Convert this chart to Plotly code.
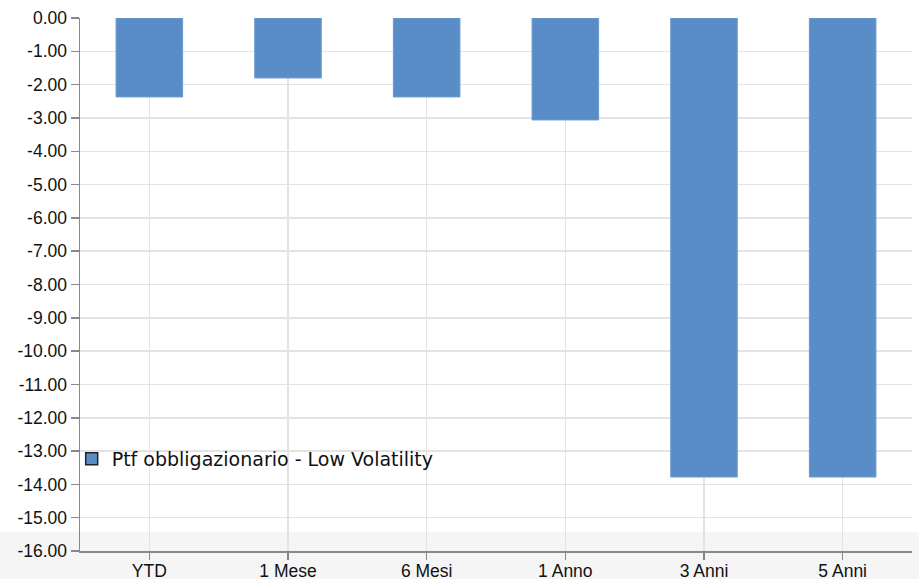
import plotly.graph_objects as go

categories = ["YTD", "1 Mese", "6 Mesi", "1 Anno", "3 Anni", "5 Anni"]
values = [-2.37, -1.80, -2.37, -3.06, -13.78, -13.78]
series_name = "Ptf obbligazionario - Low Volatility"
y_ticks = [0, -1, -2, -3, -4, -5, -6, -7, -8, -9, -10, -11, -12, -13, -14, -15, -16]

BAR = "#588dc8"
fig = go.Figure()
fig.add_trace(go.Bar(
    x=categories, y=values, name=series_name,
    marker=dict(color=BAR, line=dict(color="#6d9bd0", width=1)),
    width=0.48, showlegend=False,
))
# legend entry (dark-outlined swatch)
fig.add_trace(go.Bar(
    x=[categories[0]], y=[None], name=series_name,
    marker=dict(color=BAR, line=dict(color="#222", width=1.5)),
    showlegend=True, hoverinfo="skip",
))

fig.add_shape(type="rect", xref="paper", yref="paper", x0=-0.5, x1=1.5, y0=-0.5, y1=0.035,
              fillcolor="#f5f5f5", line=dict(width=0), layer="below")

tickfont = dict(size=17.5, family="Liberation Sans, Arial", color="#111")
fig.update_layout(
    width=919, height=579,
    margin=dict(l=80, r=7, t=18, b=28),
    paper_bgcolor="white", plot_bgcolor="rgba(0,0,0,0)",
    font=dict(family="Liberation Sans, Arial", size=17, color="#111"),
    showlegend=True, barmode="overlay", hovermode=False,
    legend=dict(x=-0.01, y=0.173, xanchor="left", yanchor="middle",
                font=dict(family="DejaVu Sans", size=19, color="#111"),
                bgcolor="rgba(0,0,0,0)"),
)
fig.update_xaxes(
    type="category", showgrid=True, gridcolor="#e3e3e3", gridwidth=1.5,
    showline=True, linecolor="#888", linewidth=1.5, automargin=False,
    ticks="outside", ticklen=7, tickcolor="#888", tickwidth=1.5,
    ticklabelstandoff=-4,
    tickfont=tickfont,
)
fig.update_yaxes(
    range=[-16, 0], tickvals=y_ticks, ticktext=[f"{v:.2f}" for v in y_ticks],
    showgrid=True, gridcolor="#e3e3e3", gridwidth=1.5, zeroline=False,
    showline=True, linecolor="#888", linewidth=1.5, automargin=False,
    ticks="outside", ticklen=8, tickcolor="#888", tickwidth=1.5,
    tickfont=tickfont,
)

fig.write_html("out.html", config={"displayModeBar": False, "staticPlot": True},
               post_script="document.body.style.margin='0';document.body.style.overflow='hidden';")
